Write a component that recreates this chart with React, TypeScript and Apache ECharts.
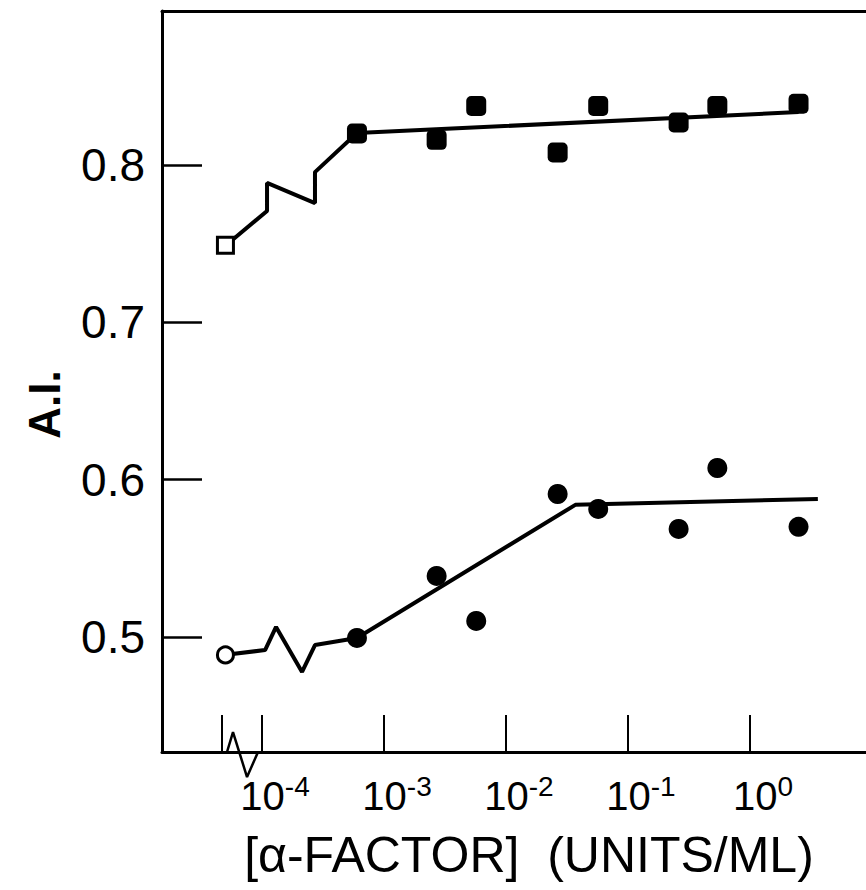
import React, { useEffect, useRef } from "react";
import * as echarts from "echarts";

// α-factor doses (units/ml) shared by both series
const doses = [6.0e-4, 2.7e-3, 5.7e-3, 2.65e-2, 5.7e-2, 0.26, 0.54, 2.5];
// Upper series (filled squares)
const upperAI = [0.82, 0.816, 0.8375, 0.808, 0.8375, 0.827, 0.8375, 0.839];
// Lower series (filled circles)
const lowerAI = [0.4994, 0.5388, 0.5102, 0.5909, 0.5814, 0.5687, 0.6074, 0.57];
// Zero-dose controls, drawn at the broken part of the axis (log10 position)
const controlPos = -4.3;
const upperControl = 0.749;
const lowerControl = 0.4886;
// Fitted lines (dose, A.I.)
const upperFit = [
  [6.0e-4, 0.8203],
  [2.5, 0.8337],
];
const lowerFit = [
  [6.0e-4, 0.4994],
  [3.7e-2, 0.584],
  [3.6, 0.5877],
];
// Break zig-zags in (log10 dose, A.I.)
const upperBreak = [
  [-4.295, 0.749],
  [-3.959, 0.7708],
  [-3.959, 0.7886],
  [-3.566, 0.7758],
  [-3.566, 0.7955],
];
const lowerBreak = [
  [-4.311, 0.4886],
  [-3.975, 0.4917],
  [-3.885, 0.5064],
  [-3.672, 0.4778],
  [-3.566, 0.4949],
];
const axisBreak = [
  [-4.287, 0.4269],
  [-4.238, 0.4396],
  [-4.123, 0.411],
  [-4.033, 0.4269],
];
const xTickLogs = [-4.33, -4, -3, -2, -1, 0];
const xLabelLogs = [-4, -3, -2, -1, 0];
const yTicks = [0.5, 0.6, 0.7, 0.8];

const X_MIN = -4.82;
const X_MAX = 0.951;
const Y_MIN = 0.4269;
const Y_MAX = 0.8979;
const FONT = "Liberation Sans";

export default function App() {
  const ref = useRef<HTMLDivElement>(null);
  useEffect(() => {
    if (!ref.current) return;
    const chart = echarts.init(ref.current, undefined, { renderer: "svg" });
    const lg = (d: number) => Math.log10(d);
    const upperCurve = [
      ...upperBreak,
      ...upperFit.map(([d, v]) => [lg(d), v]),
    ];
    const lowerCurve = [
      ...lowerBreak,
      ...lowerFit.map(([d, v]) => [lg(d), v]),
    ];
    chart.setOption({
      animation: false,
      backgroundColor: "#ffffff",
      grid: { left: 162, right: 0, top: 11, bottom: 138, containLabel: false },
      xAxis: [
        {
          type: "value",
          min: X_MIN,
          max: X_MAX,
          position: "bottom",
          name: "[α-FACTOR]  (UNITS/ML)",
          nameLocation: "middle",
          nameGap: 78,
          nameTextStyle: {
            fontFamily: FONT,
            fontSize: 50,
            color: "#000",
            padding: [0, 0, 0, 30],
            lineHeight: 50,
          },
          axisLine: { show: true, onZero: false, lineStyle: { color: "#000", width: 3 } },
          axisTick: {
            show: true,
            inside: true,
            length: 37,
            customValues: xTickLogs,
            lineStyle: { color: "#000", width: 2 },
          },
          axisLabel: {
            show: true,
            customValues: xLabelLogs,
            margin: 20,
            formatter: (v: number) => `{b|10}{s|${Math.round(v)}}`,
            rich: {
              b: {
                fontFamily: FONT,
                fontSize: 40,
                lineHeight: 40,
                color: "#000",
                padding: [7, 0, 0, 26],
              },
              s: {
                fontFamily: FONT,
                fontSize: 28,
                lineHeight: 28,
                color: "#000",
                verticalAlign: "top",
              },
            },
          },
          splitLine: { show: false },
        },
        {
          type: "value",
          min: X_MIN,
          max: X_MAX,
          position: "top",
          axisLine: { show: true, onZero: false, lineStyle: { color: "#000", width: 3 } },
          axisTick: { show: false },
          axisLabel: { show: false },
          splitLine: { show: false },
        },
      ],
      yAxis: {
        type: "value",
        min: Y_MIN,
        max: Y_MAX,
        name: "A.I.",
        nameLocation: "middle",
        nameGap: 96,
        nameTextStyle: {
          fontFamily: FONT,
          fontSize: 44,
          fontWeight: "bold",
          color: "#000",
          padding: [0, 46, 0, 0],
          lineHeight: 44,
        },
        axisLine: { show: true, onZero: false, lineStyle: { color: "#000", width: 3 } },
        axisTick: {
          show: true,
          inside: true,
          length: 40,
          customValues: yTicks,
          lineStyle: { color: "#000", width: 2.5 },
        },
        axisLabel: {
          show: true,
          customValues: yTicks,
          margin: 17,
          fontFamily: FONT,
          fontSize: 46,
          color: "#000",
          formatter: (v: number) => v.toFixed(1),
        },
        splitLine: { show: false },
      },
      series: [
        {
          name: "upper fit",
          type: "line",
          data: upperCurve,
          symbol: "none",
          lineStyle: { color: "#000", width: 4 },
          z: 2,
        },
        {
          name: "lower fit",
          type: "line",
          data: lowerCurve,
          symbol: "none",
          lineStyle: { color: "#000", width: 4 },
          z: 2,
        },
        {
          name: "axis break",
          type: "line",
          data: axisBreak,
          symbol: "none",
          clip: false,
          lineStyle: { color: "#000", width: 2.5 },
          z: 3,
        },
        {
          name: "upper",
          type: "scatter",
          data: doses.map((d, i) => [lg(d), upperAI[i]]),
          symbol: "roundRect",
          symbolSize: 20,
          itemStyle: { color: "#000", opacity: 1 },
          z: 4,
        },
        {
          name: "lower",
          type: "scatter",
          data: doses.map((d, i) => [lg(d), lowerAI[i]]),
          symbol: "circle",
          symbolSize: 20,
          itemStyle: { color: "#000", opacity: 1 },
          z: 4,
        },
        {
          name: "upper control",
          type: "scatter",
          data: [[controlPos, upperControl]],
          symbol: "rect",
          symbolSize: 16,
          itemStyle: { color: "#fff", borderColor: "#000", borderWidth: 3, opacity: 1 },
          z: 5,
        },
        {
          name: "lower control",
          type: "scatter",
          data: [[controlPos, lowerControl]],
          symbol: "circle",
          symbolSize: 16,
          itemStyle: { color: "#fff", borderColor: "#000", borderWidth: 3, opacity: 1 },
          z: 5,
        },
      ],
    });
    return () => chart.dispose();
  }, []);
  return (
    <div
      ref={ref}
      style={{ position: "fixed", left: 0, top: 0, width: 866, height: 890, background: "#fff" }}
    />
  );
}
